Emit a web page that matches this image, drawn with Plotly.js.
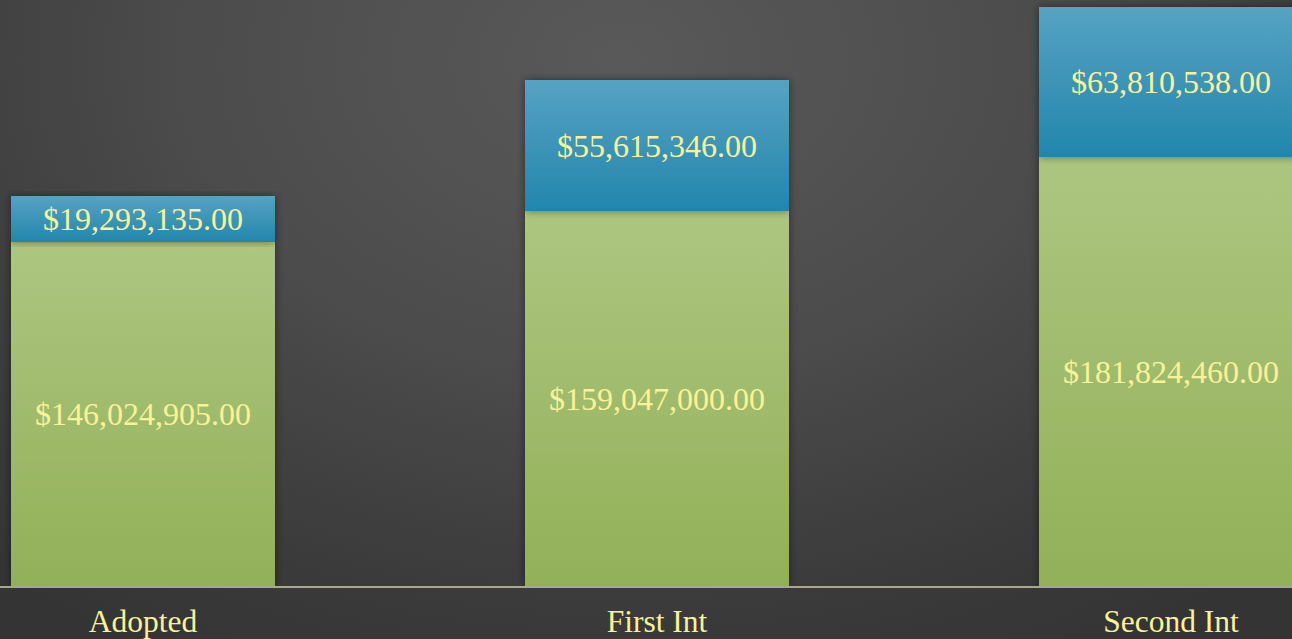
<!DOCTYPE html>
<html>
<head>
<meta charset="utf-8">
<script src="https://cdn.plot.ly/plotly-3.0.1.min.js"></script>
<style>
  html, body { margin: 0; padding: 0; width: 1292px; height: 639px; overflow: hidden; }
  body { background: radial-gradient(ellipse 950px 680px at 620px 60px, #595959 0%, #4c4c4c 45%, #3b3b3b 80%, #343434 100%); }
  #chart { width: 1292px; height: 639px; }
</style>
</head>
<body>
<div id="chart"></div>
<script>
const categories = ['Adopted', 'First Int', 'Second Int'];
const baseValues = [146024905, 159047000, 181824460];
const topValues = [19293135, 55615346, 63810538];

const labelFont = { family: '"Liberation Serif", "Times New Roman", serif', size: 32, color: '#f8f29a' };

const traces = [
  {
    type: 'bar', x: categories, y: baseValues,
    marker: { color: '#9fbb6b', line: { width: 0 } },
    texttemplate: '$%{y:,.2f}', textposition: 'inside', insidetextanchor: 'middle',
    textfont: labelFont, insidetextfont: labelFont, constraintext: 'none',
    hoverinfo: 'skip', name: 'base'
  },
  {
    type: 'bar', x: categories, y: topValues,
    marker: { color: '#3c97bd', line: { width: 0 } },
    texttemplate: '$%{y:,.2f}', textposition: 'inside', insidetextanchor: 'middle',
    textfont: labelFont, insidetextfont: labelFont, constraintext: 'none',
    hoverinfo: 'skip', name: 'top'
  }
];

const layout = {
  width: 1292, height: 639,
  margin: { l: 0, r: 0, t: 0, b: 53, pad: 0 },
  paper_bgcolor: 'rgba(0,0,0,0)',
  plot_bgcolor: 'rgba(0,0,0,0)',
  barmode: 'stack',
  bargap: 0.486,
  showlegend: false,
  xaxis: {
    type: 'category',
    range: [-0.2782, 2.2354],
    showgrid: false, zeroline: false,
    showline: true, linecolor: 'rgba(205,205,170,0.75)', linewidth: 2,
    ticks: '', ticklabelstandoff: 6,
    tickfont: { family: '"Liberation Serif", "Times New Roman", serif', size: 31.5, color: '#f8f29a' }
  },
  yaxis: {
    range: [0, 248.6e6],
    showgrid: false, zeroline: false, showline: false,
    showticklabels: false, ticks: ''
  }
};

Plotly.newPlot('chart', traces, layout, { displayModeBar: false, staticPlot: true }).then(function (gd) {
  const svgNS = 'http://www.w3.org/2000/svg';
  const svg = gd.querySelector('svg.main-svg');
  let defs = svg.querySelector('defs');
  if (!defs) { defs = document.createElementNS(svgNS, 'defs'); svg.insertBefore(defs, svg.firstChild); }
  function grad(id, c1, c2) {
    const g = document.createElementNS(svgNS, 'linearGradient');
    g.setAttribute('id', id);
    g.setAttribute('x1', '0'); g.setAttribute('y1', '0');
    g.setAttribute('x2', '0'); g.setAttribute('y2', '1');
    [[0, c1], [1, c2]].forEach(function (s) {
      const st = document.createElementNS(svgNS, 'stop');
      st.setAttribute('offset', s[0]);
      st.setAttribute('stop-color', s[1]);
      g.appendChild(st);
    });
    defs.appendChild(g);
  }
  grad('gGreen', '#adc680', '#92b058');
  grad('gBlue', '#56a2c3', '#2286ac');
  const f = document.createElementNS(svgNS, 'filter');
  f.setAttribute('id', 'barShadow');
  f.setAttribute('x', '-10%'); f.setAttribute('y', '-10%');
  f.setAttribute('width', '120%'); f.setAttribute('height', '120%');
  const ds = document.createElementNS(svgNS, 'feDropShadow');
  ds.setAttribute('dx', '0'); ds.setAttribute('dy', '0');
  ds.setAttribute('stdDeviation', '4');
  ds.setAttribute('flood-color', '#000'); ds.setAttribute('flood-opacity', '0.45');
  f.appendChild(ds);
  defs.appendChild(f);

  const barTraces = gd.querySelectorAll('.barlayer .trace.bars');
  const ids = ['gGreen', 'gBlue'];
  barTraces.forEach(function (t, i) {
    t.querySelectorAll('.point path').forEach(function (p) {
      p.style.fill = 'url(#' + ids[i] + ')';
      p.setAttribute('filter', 'url(#barShadow)');
    });
  });
});
</script>
</body>
</html>
